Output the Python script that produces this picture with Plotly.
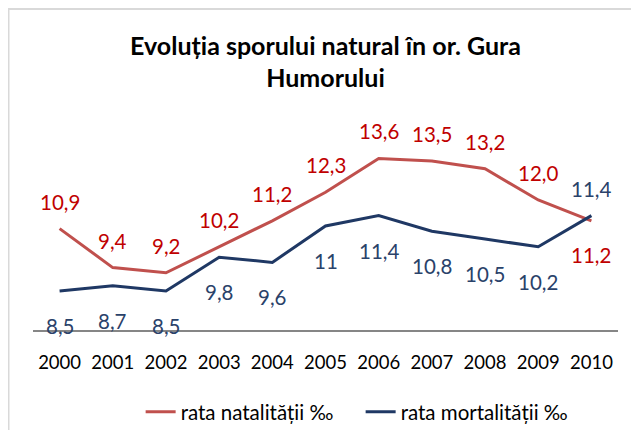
import plotly.graph_objects as go

years = [2000, 2001, 2002, 2003, 2004, 2005, 2006, 2007, 2008, 2009, 2010]
natalitate = [10.9, 9.4, 9.2, 10.2, 11.2, 12.3, 13.6, 13.5, 13.2, 12.0, 11.2]
mortalitate = [8.5, 8.7, 8.5, 9.8, 9.6, 11, 11.4, 10.8, 10.5, 10.2, 11.4]
nat_labels = [f"{v:.1f}".replace(".", ",") for v in natalitate]
mort_labels = [f"{v:g}".replace(".", ",") for v in mortalitate]

RED_LINE = "#C0504D"
RED_TEXT = "#C00000"
BLUE_LINE = "#1F3864"
BLUE_TEXT = "#2A426A"
FONT = "Lato"

fig = go.Figure()
fig.add_trace(go.Scatter(x=years, y=natalitate, mode="lines", name="rata natalității ‰",
                         line=dict(color=RED_LINE, width=3)))
fig.add_trace(go.Scatter(x=years, y=mortalitate, mode="lines", name="rata mortalității ‰",
                         line=dict(color=BLUE_LINE, width=3)))

annotations = []
for i, (yr, v, t) in enumerate(zip(years, natalitate, nat_labels)):
    above = natalitate[i] >= mortalitate[i]
    annotations.append(dict(x=yr, y=v, text=t, showarrow=False, xref="x", yref="y",
                            yanchor="middle", yshift=27 if above else -34,
                            font=dict(family=FONT, size=20.5, color=RED_TEXT)))
for i, (yr, v, t) in enumerate(zip(years, mortalitate, mort_labels)):
    above = mortalitate[i] > natalitate[i]
    annotations.append(dict(x=yr, y=v, text=t, showarrow=False, xref="x", yref="y",
                            yanchor="middle", yshift=27 if above else -35,
                            font=dict(family=FONT, size=20.5, color=BLUE_TEXT)))

fig.update_layout(
    width=623, height=422,
    margin=dict(l=25, r=13, t=140, b=100, autoexpand=False),
    paper_bgcolor="white", plot_bgcolor="white",
    font=dict(family=FONT, color="#000000"),
    title=dict(text="<b>Evoluția sporului natural în or. Gura<br>Humorului</b>",
               x=0.5, xref="paper", xanchor="center",
               y=0.889, yref="container", yanchor="top",
               font=dict(family=FONT, size=25, color="#000000")),
    xaxis=dict(range=[years[0] - 0.5, years[-1] + 0.5], tickmode="array", tickvals=years,
               ticktext=[str(y) for y in years], automargin=False,
               showgrid=False, showline=True, linecolor="#868686",
               linewidth=1.5, ticks="", tickfont=dict(family=FONT, size=18.5, color="#000000"),
               zeroline=False, fixedrange=True, ticklabelstandoff=15),
    yaxis=dict(range=[7, 14], showgrid=False, showticklabels=False, zeroline=False,
               showline=False, fixedrange=True, automargin=False),
    legend=dict(orientation="h", x=0.184, xanchor="left", y=-0.5605, yanchor="bottom",
                entrywidth=175, entrywidthmode="pixels",
                font=dict(family=FONT, size=20.5, color="#000000"),
                bgcolor="rgba(0,0,0,0)"),
    annotations=annotations,
    shapes=[dict(type="rect", xref="paper", yref="paper",
                 x0=-0.0419, y0=-0.9, x1=1.2, y1=1.764,
                 line=dict(color="#D9D9D9", width=2), layer="below")],
)

fig.write_html("out.html")
